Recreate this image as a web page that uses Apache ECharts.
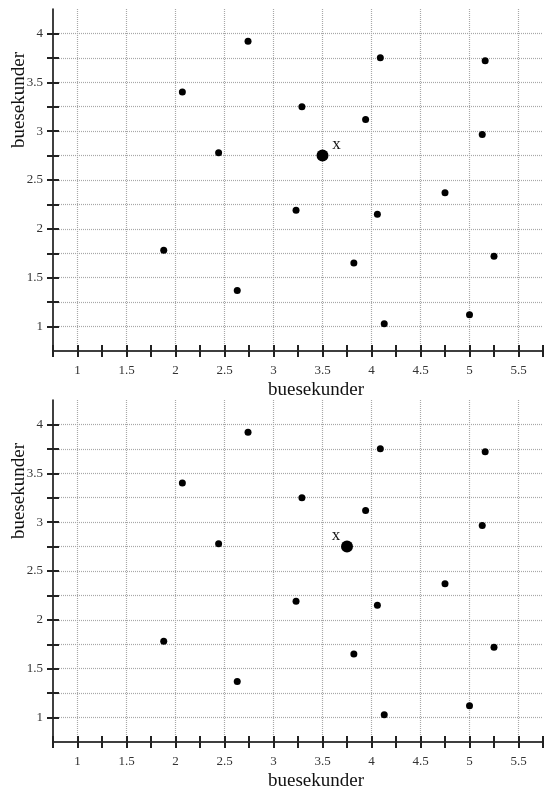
<!DOCTYPE html>
<html>
<head>
<meta charset="utf-8">
<script src="https://cdn.jsdelivr.net/npm/echarts@6/dist/echarts.min.js"></script>
<style>html,body{margin:0;padding:0;background:#fff}#c{width:546px;height:794px}</style>
</head>
<body>
<div id="c"></div>
<script>
var xs = [2.74, 2.07, 2.44, 3.29, 4.09, 5.16, 3.94, 5.13, 3.23, 1.88, 2.63, 4.75, 4.06, 3.82, 5.25, 5.00, 4.13];
var ys = [3.92, 3.40, 2.78, 3.25, 3.75, 3.72, 3.12, 2.965, 2.19, 1.78, 1.37, 2.37, 2.15, 1.65, 1.72, 1.12, 1.03];
var bigTop = [3.5, 2.75];
var bigBottom = [3.75, 2.75];
var xLabels = [1, 1.5, 2, 2.5, 3, 3.5, 4, 4.5, 5, 5.5];
var yLabels = [1, 1.5, 2, 2.5, 3, 3.5, 4];
var yTicks = [1, 1.25, 1.5, 1.75, 2, 2.25, 2.5, 2.75, 3, 3.25, 3.5, 3.75, 4];
var axisTitle = 'buesekunder';
var pointLabel = 'x';

var FONT = '"Liberation Serif", "DejaVu Serif", serif';
var pts = xs.map(function (x, i) { return [x, ys[i]]; });

var gridStyle = { color: '#a8a8a8', width: 1.2, type: [1, 1] };
function xMain(g) {
  return {
    type: 'value', gridIndex: g, min: 0.75, max: 5.75, interval: 0.25, position: 'bottom',
    axisLine: { show: true, onZero: false, lineStyle: { color: '#000', width: 1.5 } },
    axisTick: { show: true, inside: false, length: 6, lineStyle: { color: '#222', width: 2 } },
    axisLabel: { show: true, customValues: xLabels, margin: 13, color: '#333', fontFamily: FONT, fontSize: 13,
      formatter: function (v) { return String(v); } },
    splitLine: { show: true, showMaxLine: false, lineStyle: { color: ['transparent', '#a8a8a8'], width: 1.2, type: [1, 1] } }
  };
}
function xSec(g) {
  return {
    type: 'value', gridIndex: g, min: 0.75, max: 5.75, interval: 0.25, position: 'bottom',
    axisLine: { show: false, onZero: false },
    axisTick: { show: true, inside: true, length: 6, lineStyle: { color: '#222', width: 2 } },
    axisLabel: { show: false }, splitLine: { show: false }
  };
}
function yMain(g) {
  return {
    type: 'value', gridIndex: g, min: 0.75, max: 4.25, interval: 0.25, position: 'left',
    axisLine: { show: true, onZero: false, lineStyle: { color: '#000', width: 1.5 } },
    axisTick: { show: true, inside: false, length: 6, customValues: yTicks, lineStyle: { color: '#222', width: 2 } },
    axisLabel: { show: true, customValues: yLabels, margin: 10, color: '#333', fontFamily: FONT, fontSize: 13,
      formatter: function (v) { return String(v); } },
    splitLine: { show: true, lineStyle: gridStyle }
  };
}
function ySec(g) {
  return {
    type: 'value', gridIndex: g, min: 0.75, max: 4.25, interval: 0.25, position: 'left',
    axisLine: { show: false, onZero: false },
    axisTick: { show: true, inside: true, length: 6, customValues: yTicks, lineStyle: { color: '#222', width: 2 } },
    axisLabel: { show: false }, splitLine: { show: false }
  };
}
function dots(xi, yi) {
  return { type: 'scatter', xAxisIndex: xi, yAxisIndex: yi, data: pts, symbolSize: 7,
    itemStyle: { color: '#000', opacity: 1 }, silent: true, z: 5 };
}
function big(xi, yi, p, off) {
  return { type: 'scatter', xAxisIndex: xi, yAxisIndex: yi, data: [p], symbolSize: 12,
    itemStyle: { color: '#000', opacity: 1 }, silent: true, z: 6,
    label: { show: true, position: 'inside', offset: off, formatter: pointLabel,
      color: '#111', fontFamily: FONT, fontSize: 17 } };
}

var chart = echarts.init(document.getElementById('c'), null, { renderer: 'canvas' });
chart.setOption({
  animation: false,
  backgroundColor: '#fff',
  grid: [
    { left: 53, top: 9, width: 490, height: 342 },
    { left: 53, top: 400, width: 490, height: 342 }
  ],
  xAxis: [xMain(0), xSec(0), xMain(1), xSec(1)],
  yAxis: [yMain(0), ySec(0), yMain(1), ySec(1)],
  series: [
    dots(0, 0), big(0, 0, bigTop, [14, -11]),
    dots(2, 2), big(2, 2, bigBottom, [-11, -11])
  ],
  graphic: [
    { type: 'text', x: 316, y: 390, style: { text: axisTitle, font: '19px ' + FONT, fill: '#111', textAlign: 'center', textVerticalAlign: 'middle' } },
    { type: 'text', x: 316, y: 781, style: { text: axisTitle, font: '19px ' + FONT, fill: '#111', textAlign: 'center', textVerticalAlign: 'middle' } },
    { type: 'text', x: 19, y: 100, rotation: Math.PI / 2, style: { text: axisTitle, font: '19px ' + FONT, fill: '#111', textAlign: 'center', textVerticalAlign: 'middle' } },
    { type: 'text', x: 19, y: 491, rotation: Math.PI / 2, style: { text: axisTitle, font: '19px ' + FONT, fill: '#111', textAlign: 'center', textVerticalAlign: 'middle' } }
  ]
});
</script>
</body>
</html>
